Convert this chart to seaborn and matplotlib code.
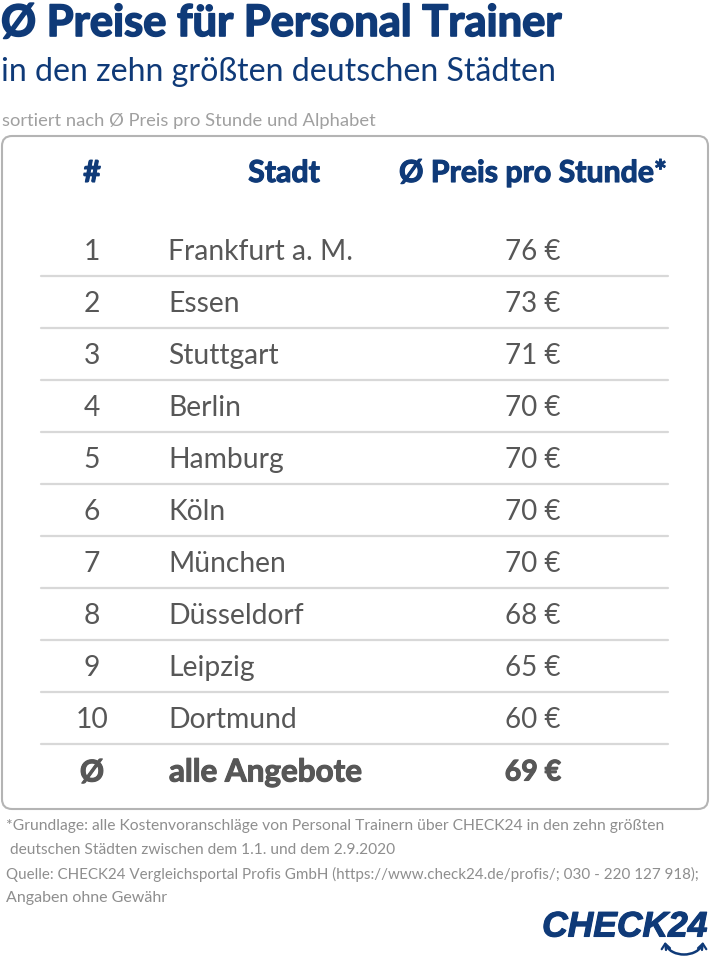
import matplotlib
matplotlib.use("Agg")
import matplotlib.pyplot as plt
import matplotlib.patheffects as pe
from matplotlib.patches import FancyBboxPatch, Arc
import pandas as pd
import seaborn as sns

ranks = ["1", "2", "3", "4", "5", "6", "7", "8", "9", "10"]
cities = ["Frankfurt a. M.", "Essen", "Stuttgart", "Berlin", "Hamburg", "Köln",
          "München", "Düsseldorf", "Leipzig", "Dortmund"]
prices = [76, 73, 71, 70, 70, 70, 70, 68, 65, 60]
avg_price = 69
headers = ["#", "Stadt", "Ø Preis pro Stunde*"]
footnotes = [
    "*Grundlage: alle Kostenvoranschläge von Personal Trainern über CHECK24 in den zehn größten",
    " deutschen Städten zwischen dem 1.1. und dem 2.9.2020",
    "Quelle: CHECK24 Vergleichsportal Profis GmbH (https://www.check24.de/profis/; 030 - 220 127 918);",
    "Angaben ohne Gewähr",
]

BLUE = "#0f3a78"
GREY = "#575757"
LIGHT = "#8e8e8e"

sns.set_theme(style="white")
plt.rcParams["font.family"] = ["Lato", "DejaVu Sans"]

fig = plt.figure(figsize=(7.1, 9.58), dpi=100)
ax = fig.add_axes([0, 0, 1, 1])


def heavy(x, y, s, size, color, ha="left", stroke=0.8):
    # Lato has no usable black cut here, so thicken the bold with a stroke
    t = ax.text(x, y, s, fontsize=size, fontweight="bold", color=color, ha=ha, va="center")
    t.set_path_effects([pe.withStroke(linewidth=stroke, foreground=color)])
    return t


# title block
heavy(1, 23, "Ø Preise für Personal Trainer", 31.3, BLUE, stroke=1.2)
ax.text(1, 72, "in den zehn größten deutschen Städten", fontsize=23.1, color=BLUE, va="center")
ax.text(2, 121, "sortiert nach Ø Preis pro Stunde und Alphabet", fontsize=13.2, color="#a0a0a0", va="center")

# frame
ax.add_patch(FancyBboxPatch((10, 144), 690, 657, boxstyle="round,pad=8,rounding_size=10",
                            fc="white", ec="#b4b4b4", lw=1.5, zorder=0))

# header
heavy(92, 173, headers[0], 21.8, BLUE, ha="center")
heavy(284, 173, headers[1], 21.8, BLUE, ha="center")
heavy(533, 173, headers[2], 21.8, BLUE, ha="center")

# rows
row_h = 52.05
df = pd.DataFrame({"rank": ranks, "city": cities, "price": prices})
df["y"] = [250 + row_h * i for i in range(len(df))]

rules = pd.concat([
    pd.DataFrame({"x": [41, 668], "y": [y + 26, y + 26], "row": r})
    for r, y in zip(df["rank"], df["y"])
])
sns.lineplot(data=rules, x="x", y="y", units="row", estimator=None, color="#d8d8d8",
             linewidth=1.6, ax=ax, legend=False)
ax.set_xlim(0, 710)
ax.set_ylim(958, 0)
ax.axis("off")

for row in df.itertuples():
    ax.text(92, row.y + 2, row.rank, fontsize=20.3, color=GREY, ha="center", va="center")
    ax.text(168, row.y + 2, row.city, fontsize=20.3, color=GREY, va="center")
    ax.text(533, row.y + 2, f"{row.price} €", fontsize=20, color=GREY, ha="center", va="center")

avg_y = 250 + row_h * len(df) + 2
heavy(92, avg_y, "Ø", 21.5, GREY, ha="center")
heavy(169, avg_y, "alle Angebote", 22.6, GREY)
heavy(533, avg_y, f"{avg_price} €", 20.5, GREY, ha="center")

# footnotes
foot_sizes = [11.25, 11.2, 10.9, 11.5]
for i, line in enumerate(footnotes):
    ax.text(6, 826 + 24 * i, line, fontsize=foot_sizes[i], color=LIGHT, va="center")

# logo
logo = ax.text(707, 927, "CHECK24", fontsize=25.5, fontweight="bold", style="italic", color=BLUE,
               family="Liberation Sans", ha="right", va="center")
logo.set_path_effects([pe.withStroke(linewidth=0.8, foreground=BLUE)])
ax.add_patch(Arc((684, 941), 38, 27, theta1=15, theta2=165, color=BLUE, lw=1.8))
for tip, tail in [((665, 942), (666, 950)), ((703, 942), (702, 950))]:
    ax.annotate("", xy=tip, xytext=tail,
                arrowprops=dict(arrowstyle="->,head_length=0.3,head_width=0.25", color=BLUE, lw=1.6,
                                shrinkA=0, shrinkB=0))

fig.savefig("out.png", dpi=100)
